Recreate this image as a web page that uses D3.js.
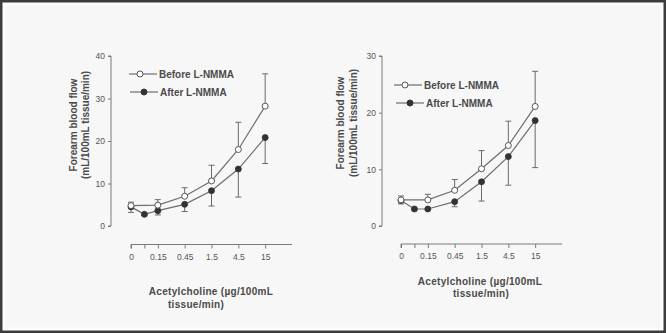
<!DOCTYPE html>
<html><head><meta charset="utf-8">
<script src="https://cdn.jsdelivr.net/npm/d3@7"></script>
<style>body{margin:0;background:#fff}svg{display:block}</style>
</head><body>
<svg id="c" width="666" height="333"></svg>
<script>
// ---- data ----
const doses = ["0", "0.05", "0.15", "0.45", "1.5", "4.5", "15"];
const doseLabels = ["0", "", "0.15", "0.45", "1.5", "4.5", "15"];
const seriesNames = ["Before L-NMMA", "After L-NMMA"];

const leftBeforeDoses = ["0", "0.15", "0.45", "1.5", "4.5", "15"];
const leftBefore = [4.8, 4.9, 7.0, 10.6, 18.0, 28.2];
const leftBeforeErr = [0.8, 1.3, 2.0, 3.7, 6.4, 7.6];
const leftAfterDoses = ["0", "0.05", "0.15", "0.45", "1.5", "4.5", "15"];
const leftAfter = [4.5, 2.75, 3.6, 5.1, 8.3, 13.4, 20.8];
const leftAfterErr = [1.3, 0.3, 1.0, 1.7, 3.6, 6.6, 6.1];

const rightBeforeDoses = ["0", "0.15", "0.45", "1.5", "4.5", "15"];
const rightBefore = [4.6, 4.6, 6.3, 10.1, 14.2, 21.1];
const rightBeforeErr = [0.7, 1.0, 1.9, 3.2, 4.3, 6.2];
const rightAfterDoses = ["0", "0.05", "0.15", "0.45", "1.5", "4.5", "15"];
const rightAfter = [4.5, 3.0, 3.0, 4.3, 7.8, 12.25, 18.6];
const rightAfterErr = [0.6, 0.2, 0.2, 0.9, 3.4, 5.05, 8.3];

const leftYTicks = [0, 10, 20, 30, 40];
const rightYTicks = [0, 10, 20, 30];
const yTitle = ["Forearm blood flow", "(mL/100mL tissue/min)"];
const xTitle = ["Acetylcholine (\u00b5g/100mL", "tissue/min)"];

// ---- drawing ----
const svg = d3.select("#c");
const FONT = "'Liberation Sans', Arial, sans-serif";
svg.append("rect").attr("x", 1.5).attr("y", 1.5).attr("width", 663).attr("height", 330)
  .attr("fill", "#f7f7f7").attr("stroke", "#3c3c3c").attr("stroke-width", 3);
svg.append("rect").attr("x", 4).attr("y", 4).attr("width", 658).attr("height", 325)
  .attr("fill", "none").attr("stroke", "#fdfdfd").attr("stroke-width", 3);

// x domain: first three doses at half-step, then full steps (spacers), plus trailing room
function xDomain() {
  const d = [];
  doses.forEach((v, i) => { d.push(v); if (i >= 2) d.push("_s" + i); });
  d.push("_end");
  return d;
}

function panel(cfg) {
  const g = svg.append("g");
  const x = d3.scalePoint().domain(xDomain()).range([cfg.x0, cfg.x1]).padding(0);
  const y = d3.scaleLinear().domain([0, cfg.ymax]).range([226, 56]);
  const axisCol = "#7a7a7a", textCol = "#4a4a4a";

  // y axis
  const ya = g.append("g").attr("transform", `translate(${cfg.yAxisX},0)`)
    .call(d3.axisLeft(y).tickValues(cfg.yTicks).tickSize(3).tickPadding(3));
  ya.select(".domain").attr("stroke", axisCol).attr("d", `M-3,${y(0)}H0V${y(cfg.ymax)}H-3`);
  ya.selectAll(".tick line").attr("stroke", axisCol);
  ya.selectAll(".tick text").attr("fill", "#555").style("font-family", FONT).style("font-size", "8.5px");

  // x axis
  const xa = g.append("g").attr("transform", `translate(0,${cfg.xAxisY})`)
    .call(d3.axisBottom(x).tickValues(doses).tickSize(4).tickPadding(5)
      .tickFormat(d => doseLabels[doses.indexOf(d)]));
  xa.select(".domain").attr("stroke", axisCol).attr("d", `M${cfg.x0},4V0H${cfg.x1}`);
  xa.selectAll(".tick line").attr("stroke", axisCol);
  xa.selectAll(".tick text").attr("fill", "#555").style("font-family", FONT).style("font-size", "8.5px");

  const line = d3.line().x(d => x(d.d)).y(d => y(d.v));
  const before = cfg.bd.map((d, i) => ({ d, v: cfg.bv[i], e: cfg.be[i] }));
  const after = cfg.ad.map((d, i) => ({ d, v: cfg.av[i], e: cfg.ae[i] }));

  // error bars
  const cap = 3;
  function bars(data, dir) {
    const eg = g.append("g").attr("stroke", "#6a6a6a").attr("stroke-width", 1).attr("fill", "none");
    data.forEach(p => {
      const y1 = y(p.v + dir * p.e), xx = x(p.d);
      eg.append("path").attr("d", `M${xx},${y(p.v)}V${y1}M${xx - cap},${y1}H${xx + cap}`);
    });
  }
  bars(before, 1);
  bars(after, -1);

  g.append("path").datum(before).attr("d", line).attr("fill", "none").attr("stroke", "#6e6e6e").attr("stroke-width", 1.2);
  g.append("path").datum(after).attr("d", line).attr("fill", "none").attr("stroke", "#6e6e6e").attr("stroke-width", 1.2);

  g.selectAll(".pa").data(after).join("circle").attr("cx", d => x(d.d)).attr("cy", d => y(d.v))
    .attr("r", 3).attr("fill", "#333").attr("stroke", "#333").attr("stroke-width", 0.8);
  g.selectAll(".pb").data(before).join("circle").attr("cx", d => x(d.d)).attr("cy", d => y(d.v))
    .attr("r", 3).attr("fill", "#fff").attr("stroke", "#555").attr("stroke-width", 1);

  // legend
  seriesNames.forEach((name, i) => {
    const ly = cfg.legY + i * 18, lx = cfg.legX + i * cfg.legShift;
    g.append("line").attr("x1", lx).attr("x2", lx + 28).attr("y1", ly).attr("y2", ly)
      .attr("stroke", "#6e6e6e").attr("stroke-width", 1.2);
    g.append("circle").attr("cx", lx + 11 + i * 3).attr("cy", ly).attr("r", 3)
      .attr("fill", i === 0 ? "#fff" : "#333").attr("stroke", i === 0 ? "#555" : "#333");
    g.append("text").attr("x", lx + 30).attr("y", ly).attr("dy", "0.35em")
      .attr("fill", textCol).style("font-family", FONT).style("font-size", "10px").style("font-weight", "bold")
      .text(name);
  });

  // y title
  yTitle.forEach((t, i) => {
    g.append("text").attr("transform", `translate(${cfg.ytX + i * 12.5},${cfg.ytY}) rotate(-90)`)
      .attr("text-anchor", "middle").attr("dy", "0.35em")
      .attr("fill", textCol).style("font-family", FONT).style("font-size", "10px").style("font-weight", "bold")
      .text(t);
  });
  // x title
  xTitle.forEach((t, i) => {
    g.append("text").attr("x", cfg.xtX[i]).attr("y", cfg.xtY[i]).attr("text-anchor", "middle")
      .attr("fill", textCol).style("font-family", FONT).style("font-size", "10px").style("font-weight", "bold")
      .style("letter-spacing", "0.3px")
      .text(t);
  });
}

panel({ x0: 131, x1: 292, xAxisY: 244.5, yAxisX: 111, ymax: 40, yTicks: leftYTicks,
  bd: leftBeforeDoses, bv: leftBefore, be: leftBeforeErr, ad: leftAfterDoses, av: leftAfter, ae: leftAfterErr,
  legX: 129, legY: 74, legShift: 1, ytX: 73, ytY: 125, xtX: [211, 196], xtY: [295, 308] });
panel({ x0: 401, x1: 562, xAxisY: 244, yAxisX: 382, ymax: 30, yTicks: rightYTicks,
  bd: rightBeforeDoses, bv: rightBefore, be: rightBeforeErr, ad: rightAfterDoses, av: rightAfter, ae: rightAfterErr,
  legX: 394, legY: 85, legShift: 2, ytX: 340.5, ytY: 123, xtX: [480, 481], xtY: [285, 297] });
</script>
</body></html>
